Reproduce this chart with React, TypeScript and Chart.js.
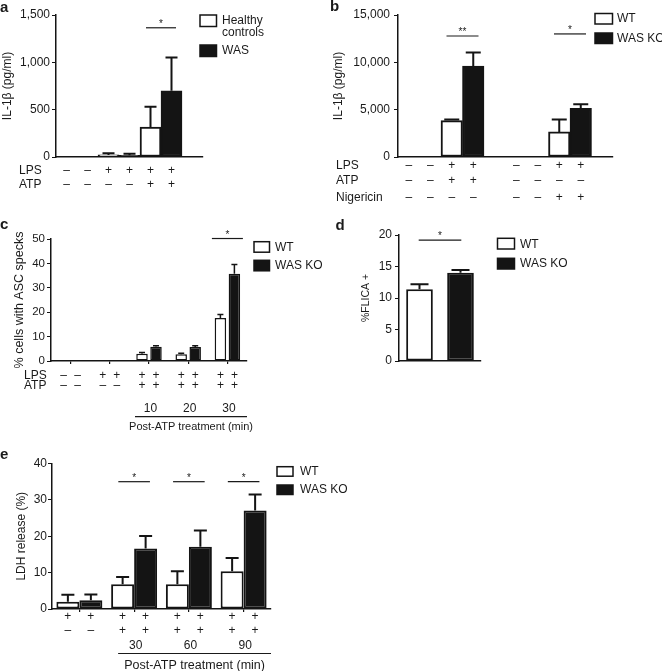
import React, { useEffect, useRef } from 'react';
import { Chart, registerables } from 'chart.js';

Chart.register(...registerables);

const FONT = '"Liberation Sans", Arial, Helvetica, sans-serif';
const INK = '#1a1a1a';
const BLACK = '#141414';
const PAGE_W = 662;
const PAGE_H = 671;

// ---------------- Panel a: IL-1β, healthy controls vs WAS ----------------
const aCategories = ['-/-', '-/-', '+/-', '+/-', '+/+', '+/+', ''];
const aHealthy = [0, null, 22, null, 315, null, null];
const aHealthyErr = [0, null, 18, null, 215, null, null];
const aWAS = [null, 0, null, 18, null, 700, null];
const aWASErr = [null, 0, null, 16, null, 350, null];
const aLPS = ['–', '–', '+', '+', '+', '+', ''];
const aATP = ['–', '–', '–', '–', '+', '+', ''];
const aSig = [{ from: 4, to: 5, y: 1365, text: '*' }];

// ---------------- Panel b: IL-1β, WT vs WAS KO ----------------
const bCategories = ['1', '2', '3', '4', '', '5', '6', '7', '8', ''];
const bWT = [0, null, 3850, null, null, 0, null, 2650, null, null];
const bWTErr = [0, null, 120, null, null, 0, null, 1300, null, null];
const bKO = [null, 0, null, 9600, null, null, 0, null, 5150, null];
const bKOErr = [null, 0, null, 1450, null, null, 0, null, 430, null];
const bLPS = ['–', '–', '+', '+', '', '–', '–', '+', '+', ''];
const bATP = ['–', '–', '+', '+', '', '–', '–', '–', '–', ''];
const bNig = ['–', '–', '–', '–', '', '–', '–', '+', '+', ''];
const bSig = [
  { from: 2, to: 3, y: 12780, text: '**' },
  { from: 7, to: 8, y: 13000, text: '*' },
];

// ---------------- Panel c: % cells with ASC specks ----------------
const cCategories = ['none', 'LPS', 'LPS+ATP 10', 'LPS+ATP 20', 'LPS+ATP 30'];
const cWT = [0, 0, 3.0, 2.8, 17.6];
const cWTErr = [0, 0, 0.5, 0.4, 1.5];
const cKO = [0, 0, 5.8, 5.7, 35.8];
const cKOErr = [0, 0, 0.5, 0.5, 3.7];
const cLPS = [['–', '–'], ['+', '+'], ['+', '+'], ['+', '+'], ['+', '+']];
const cATP = [['–', '–'], ['–', '–'], ['+', '+'], ['+', '+'], ['+', '+']];
const cMinutes = ['', '', '10', '20', '30'];
const cSig = [{ from: 4, to: 4, y: 50.2, text: '*' }];

// ---------------- Panel d: %FLICA+ ----------------
const dCategories = ['WT', 'WAS KO'];
const dWT = [11.4, null];
const dWTErr = [0.8, null];
const dKO = [null, 14.0];
const dKOErr = [null, 0.45];
const dSig = [{ from: 0, to: 1, y: 19.2, text: '*' }];

// ---------------- Panel e: LDH release ----------------
const eCategories = ['LPS', 'LPS+ATP 30', 'LPS+ATP 60', 'LPS+ATP 90'];
const eWT = [2.0, 6.8, 6.8, 10.4];
const eWTErr = [1.9, 2.0, 3.6, 3.6];
const eKO = [2.4, 16.6, 17.1, 27.1];
const eKOErr = [1.6, 3.5, 4.5, 4.4];
const eRow1 = [['+', '+'], ['+', '+'], ['+', '+'], ['+', '+']];
const eRow2 = [['–', '–'], ['+', '+'], ['+', '+'], ['+', '+']];
const eMinutes = ['', '30', '60', '90'];
const eSig = [
  { from: 1, to: 1, y: 35, text: '*' },
  { from: 2, to: 2, y: 35, text: '*' },
  { from: 3, to: 3, y: 35, text: '*' },
];

// ---------------- drawing helpers ----------------
function txt(ctx: any, s: string, x: number, y: number, size: number, align = 'center', weight = 'normal', baseline = 'middle') {
  ctx.save();
  ctx.font = `${weight} ${size}px ${FONT}`;
  ctx.fillStyle = INK;
  ctx.textAlign = align;
  ctx.textBaseline = baseline;
  ctx.fillText(s, x, y);
  ctx.restore();
}

function box(ctx: any, x: number, y: number, w: number, h: number, filled: boolean) {
  ctx.save();
  ctx.fillStyle = filled ? BLACK : '#ffffff';
  ctx.fillRect(x, y, w, h);
  ctx.strokeStyle = BLACK;
  ctx.lineWidth = 1.5;
  ctx.strokeRect(x, y, w, h);
  ctx.restore();
}

function hline(ctx: any, x0: number, x1: number, y: number, w = 1.2) {
  ctx.save();
  ctx.strokeStyle = INK;
  ctx.lineWidth = w;
  ctx.beginPath();
  ctx.moveTo(x0, y);
  ctx.lineTo(x1, y);
  ctx.stroke();
  ctx.restore();
}

function catX(chart: any, i: number) {
  return chart.scales.x.getPixelForValue(i);
}

function barX(chart: any, ds: number, i: number) {
  return (chart.getDatasetMeta(ds).data[i] as any).x;
}

function drawSigs(chart: any, sigs: any[], half: number) {
  const ctx = chart.ctx;
  sigs.forEach((s) => {
    const cx = (catX(chart, s.from) + catX(chart, s.to)) / 2;
    const py = chart.scales.y.getPixelForValue(s.y);
    hline(ctx, cx - half, cx + half, py, 1.2);
    txt(ctx, s.text, cx, py - 1, 10, 'center', 'normal', 'alphabetic');
  });
}

function drawCatRow(chart: any, signs: string[], y: number) {
  signs.forEach((s, i) => {
    if (s) txt(chart.ctx, s, catX(chart, i), y, 12);
  });
}

function drawBarRow(chart: any, signs: string[][], y: number) {
  signs.forEach((pair, i) => {
    pair.forEach((s, d) => {
      if (s) txt(chart.ctx, s, barX(chart, d, i), y, 12);
    });
  });
}

const errorBars = (cap: number, width: number) => ({
  id: 'errorBars',
  afterDatasetsDraw(chart: any) {
    const ctx = chart.ctx;
    const yScale = chart.scales.y;
    chart.data.datasets.forEach((ds: any, di: number) => {
      const meta = chart.getDatasetMeta(di);
      (ds.errors || []).forEach((e: any, i: number) => {
        const v = ds.data[i];
        if (v == null || e == null || e === 0) return;
        const el: any = meta.data[i];
        if (!el) return;
        const x = el.x;
        const y0 = yScale.getPixelForValue(v);
        const y1 = yScale.getPixelForValue(v + e);
        ctx.save();
        ctx.strokeStyle = BLACK;
        ctx.lineWidth = width;
        ctx.beginPath();
        ctx.moveTo(x, y0);
        ctx.lineTo(x, y1);
        ctx.moveTo(x - cap / 2, y1);
        ctx.lineTo(x + cap / 2, y1);
        ctx.stroke();
        ctx.restore();
      });
    });
  },
});

function panel(p: any) {
  const { area } = p;
  return {
    type: 'bar',
    data: {
      labels: p.labels,
      datasets: p.series.map((s: any) => ({
        label: s.label,
        data: s.data,
        errors: s.errors,
        backgroundColor: s.filled ? BLACK : '#ffffff',
        borderColor: BLACK,
        borderWidth: p.border,
        borderSkipped: false,
        categoryPercentage: p.catPct,
        barPercentage: p.barPct,
        skipNull: p.skipNull,
      })),
    },
    options: {
      responsive: false,
      animation: false,
      devicePixelRatio: 1,
      events: [],
      layout: {
        padding: {
          left: area.left - p.yWidth,
          right: PAGE_W - area.right,
          top: area.top,
          bottom: PAGE_H - area.bottom - 10,
        },
      },
      plugins: { legend: { display: false }, tooltip: { enabled: false } },
      scales: {
        x: {
          type: 'category',
          offset: true,
          ticks: { display: false },
          grid: {
            display: p.xTicks,
            drawOnChartArea: false,
            drawTicks: true,
            tickLength: 3,
            offset: false,
            color: BLACK,
            lineWidth: 1.2,
          },
          border: { display: true, color: BLACK, width: 1.5 },
          afterFit: (s: any) => {
            s.height = 10;
          },
        },
        y: {
          min: 0,
          max: p.yMax,
          ticks: {
            stepSize: p.yStep,
            color: INK,
            padding: p.tickPad,
            font: { family: FONT, size: p.tickSize },
            callback: (v: any) => Number(v).toLocaleString('en-US'),
          },
          grid: { drawOnChartArea: false, drawTicks: true, tickLength: 4, color: BLACK, lineWidth: 1 },
          border: { display: true, color: BLACK, width: 1.5 },
          title: {
            display: true,
            text: p.yTitle,
            color: INK,
            padding: 0,
            font: { family: FONT, size: p.titleSize },
          },
          afterFit: (s: any) => {
            s.width = p.yWidth;
          },
        },
      },
    },
    plugins: [errorBars(p.cap, p.errWidth), { id: 'decor', afterDraw: (c: any) => p.decor(c) }],
  };
}

const configs = [
  // ---- a ----
  () =>
    panel({
      labels: aCategories,
      series: [
        { label: 'Healthy controls', data: aHealthy, errors: aHealthyErr, filled: false },
        { label: 'WAS', data: aWAS, errors: aWASErr, filled: true },
      ],
      area: { left: 56, right: 203, top: 15, bottom: 157 },
      yWidth: 55.6, yMax: 1500, yStep: 500, tickPad: 2, tickSize: 12,
      yTitle: 'IL-1β (pg/ml)', titleSize: 12,
      xTicks: false, catPct: 1, barPct: 1, skipNull: true, border: 2, cap: 12, errWidth: 2,
      decor: (c: any) => {
        const ctx = c.ctx;
        txt(ctx, 'a', 0, 8, 15, 'left', 'bold');
        box(ctx, 200, 15, 16.5, 11.5, false);
        txt(ctx, 'Healthy', 222, 20.7, 12, 'left');
        txt(ctx, 'controls', 222, 33, 12, 'left');
        box(ctx, 200, 45, 16.5, 11.5, true);
        txt(ctx, 'WAS', 222, 50.7, 12, 'left');
        drawSigs(c, aSig, 15);
        txt(ctx, 'LPS', 19, 171, 12, 'left');
        txt(ctx, 'ATP', 19, 184.5, 12, 'left');
        drawCatRow(c, aLPS, 171);
        drawCatRow(c, aATP, 184.5);
      },
    }),
  // ---- b ----
  () =>
    panel({
      labels: bCategories,
      series: [
        { label: 'WT', data: bWT, errors: bWTErr, filled: false },
        { label: 'WAS KO', data: bKO, errors: bKOErr, filled: true },
      ],
      area: { left: 398, right: 613, top: 15, bottom: 157 },
      yWidth: 66.9, yMax: 15000, yStep: 5000, tickPad: 4, tickSize: 12,
      yTitle: 'IL-1β (pg/ml)', titleSize: 12,
      xTicks: false, catPct: 1, barPct: 1, skipNull: true, border: 2, cap: 15, errWidth: 2,
      decor: (c: any) => {
        const ctx = c.ctx;
        txt(ctx, 'b', 330, 7, 15, 'left', 'bold');
        box(ctx, 595, 13.5, 17.5, 10.5, false);
        txt(ctx, 'WT', 617, 19, 12, 'left');
        box(ctx, 595, 33, 17.5, 10.5, true);
        txt(ctx, 'WAS KO', 617, 38.5, 12, 'left');
        drawSigs(c, bSig, 16);
        txt(ctx, 'LPS', 336, 165.5, 12, 'left');
        txt(ctx, 'ATP', 336, 181, 12, 'left');
        txt(ctx, 'Nigericin', 336, 198, 12, 'left');
        drawCatRow(c, bLPS, 165.5);
        drawCatRow(c, bATP, 181);
        drawCatRow(c, bNig, 198);
      },
    }),
  // ---- c ----
  () =>
    panel({
      labels: cCategories,
      series: [
        { label: 'WT', data: cWT, errors: cWTErr, filled: false },
        { label: 'WAS KO', data: cKO, errors: cKOErr, filled: true },
      ],
      area: { left: 51, right: 247, top: 239, bottom: 361 },
      yWidth: 38.5, yMax: 50, yStep: 10, tickPad: 2, tickSize: 11.5,
      yTitle: '% cells with ASC specks', titleSize: 12.5,
      xTicks: true, catPct: 0.714, barPct: 0.82, skipNull: false, border: 1.5, cap: 6, errWidth: 1.5,
      decor: (c: any) => {
        const ctx = c.ctx;
        txt(ctx, 'c', 0, 225, 15, 'left', 'bold');
        box(ctx, 254, 241.7, 15.5, 10.5, false);
        txt(ctx, 'WT', 275, 247.3, 12, 'left');
        box(ctx, 254, 260.3, 15.5, 10.5, true);
        txt(ctx, 'WAS KO', 275, 265.5, 12, 'left');
        drawSigs(c, cSig, 15.5);
        txt(ctx, 'LPS', 24, 375.5, 12, 'left');
        txt(ctx, 'ATP', 24, 386, 12, 'left');
        drawBarRow(c, cLPS, 375.5);
        drawBarRow(c, cATP, 386);
        cMinutes.forEach((m, i) => {
          if (m) txt(ctx, m, catX(c, i) + 1.5, 408.3, 12);
        });
        const x0 = catX(c, 2) - 14;
        const x1 = c.chartArea.right;
        hline(ctx, x0, x1, 416.7, 1.2);
        txt(ctx, 'Post-ATP treatment (min)', (x0 + x1) / 2, 427, 11);
      },
    }),
  // ---- d ----
  () =>
    panel({
      labels: dCategories,
      series: [
        { label: 'WT', data: dWT, errors: dWTErr, filled: false },
        { label: 'WAS KO', data: dKO, errors: dKOErr, filled: true },
      ],
      area: { left: 399, right: 481, top: 235, bottom: 361 },
      yWidth: 39, yMax: 20, yStep: 5, tickPad: 3, tickSize: 12,
      yTitle: '%FLICA +', titleSize: 10.5,
      xTicks: false, catPct: 1, barPct: 0.65, skipNull: true, border: 2, cap: 18, errWidth: 2,
      decor: (c: any) => {
        const ctx = c.ctx;
        txt(ctx, 'd', 335.5, 226, 15, 'left', 'bold');
        box(ctx, 497.5, 238.3, 17, 10.7, false);
        txt(ctx, 'WT', 520, 244.3, 12, 'left');
        box(ctx, 497.5, 258.3, 17, 10.7, true);
        txt(ctx, 'WAS KO', 520, 263.7, 12, 'left');
        drawSigs(c, dSig, 21.3);
      },
    }),
  // ---- e ----
  () =>
    panel({
      labels: eCategories,
      series: [
        { label: 'WT', data: eWT, errors: eWTErr, filled: false },
        { label: 'WAS KO', data: eKO, errors: eKOErr, filled: true },
      ],
      area: { left: 52, right: 271, top: 463.5, bottom: 609 },
      yWidth: 37.5, yMax: 40, yStep: 10, tickPad: 1, tickSize: 12,
      yTitle: 'LDH release (%)', titleSize: 12,
      xTicks: true, catPct: 0.84, barPct: 1, skipNull: false, border: 2, cap: 13, errWidth: 2,
      decor: (c: any) => {
        const ctx = c.ctx;
        txt(ctx, 'e', 0, 455, 15, 'left', 'bold');
        box(ctx, 277, 466.7, 16, 9.5, false);
        txt(ctx, 'WT', 300, 471.7, 12, 'left');
        box(ctx, 277, 485, 16, 9.5, true);
        txt(ctx, 'WAS KO', 300, 490, 12, 'left');
        drawSigs(c, eSig, 15.8);
        drawBarRow(c, eRow1, 617);
        drawBarRow(c, eRow2, 631);
        eMinutes.forEach((m, i) => {
          if (m) txt(ctx, m, catX(c, i) + 1.5, 646, 12);
        });
        const x0 = catX(c, 1) - 16;
        const x1 = c.chartArea.right;
        hline(ctx, x0, x1, 653.5, 1.2);
        txt(ctx, 'Post-ATP treatment (min)', (x0 + x1) / 2, 665.5, 12.5);
      },
    }),
];

function PanelCanvas({ make }: { make: () => any }) {
  const ref = useRef<HTMLCanvasElement>(null);
  useEffect(() => {
    const chart = new Chart(ref.current as HTMLCanvasElement, make());
    return () => chart.destroy();
  }, []);
  return (
    <canvas
      ref={ref}
      width={PAGE_W}
      height={PAGE_H}
      style={{ position: 'absolute', left: 0, top: 0, width: PAGE_W, height: PAGE_H }}
    />
  );
}

export default function App() {
  return (
    <div
      style={{
        position: 'absolute',
        left: 0,
        top: 0,
        width: PAGE_W,
        height: PAGE_H,
        background: '#ffffff',
        overflow: 'hidden',
      }}
    >
      {configs.map((make, i) => (
        <PanelCanvas key={i} make={make} />
      ))}
    </div>
  );
}
